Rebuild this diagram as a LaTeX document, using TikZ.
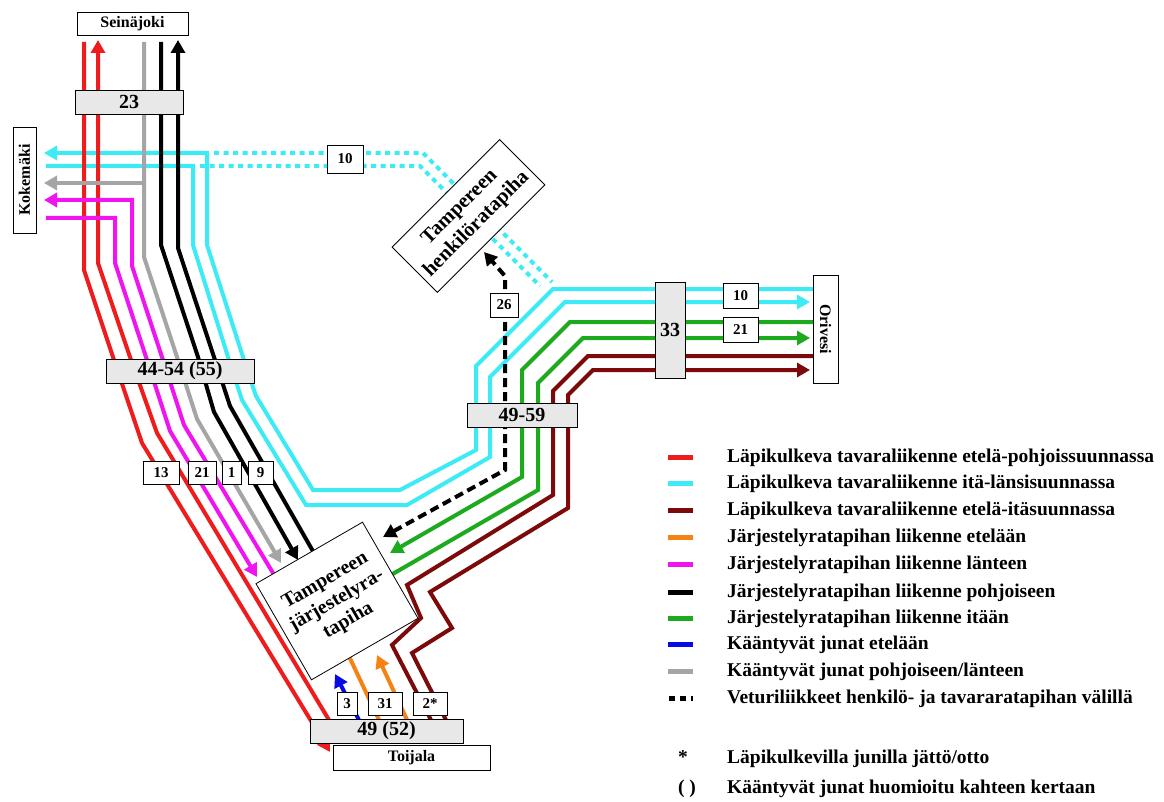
\documentclass[tikz,border=0pt]{standalone}
\usepackage{fontspec}
\setmainfont{Liberation Serif}
\usetikzlibrary{arrows.meta}
\definecolor{cRed}{RGB}{238,28,28}
\definecolor{cCyan}{RGB}{60,235,245}
\definecolor{cDark}{RGB}{125,10,10}
\definecolor{cOrange}{RGB}{245,130,20}
\definecolor{cMag}{RGB}{240,20,240}
\definecolor{cGreen}{RGB}{30,170,30}
\definecolor{cBlue}{RGB}{10,10,230}
\definecolor{cGray}{RGB}{165,165,165}
\definecolor{cBox}{RGB}{232,232,232}
\begin{document}
\begin{tikzpicture}[x=1pt,y=-1pt,
  ln/.style={line width=4pt},
  tip/.style={-{Triangle[length=13pt,width=14pt]}},
  dots/.style={ln, cCyan, dash pattern=on 5pt off 4.5pt},
  wbox/.style={draw, line width=0.8pt, fill=white, inner sep=0pt, font=\bfseries\fontsize{15}{17}\selectfont},
  nbox/.style={draw, line width=0.8pt, fill=white, inner sep=0pt, font=\bfseries\fontsize{16}{18}\selectfont},
  gbox/.style={draw, line width=0.8pt, fill=cBox, inner sep=0pt, font=\bfseries\fontsize{20}{22}\selectfont},
  ybox/.style={draw, line width=0.8pt, fill=white, inner sep=0pt, align=center, font=\bfseries\fontsize{20}{23}\selectfont},
  legline/.style={line width=5pt},
  legtxt/.style={anchor=west, inner sep=0pt, text height=14pt, text depth=4pt, font=\bfseries\fontsize{19.5}{22}\selectfont}
]
\useasboundingbox (0,0) rectangle (1164,802);
\fill[white] (0,0) rectangle (1164,802);

% dotted cyan via passenger yard
\draw[dots] (214,153) -- (423,153) -- (552,282);
\draw[dots] (200,166) -- (420,166) -- (540,286);

% cyan through lines
\draw[ln, cCyan, tip] (813,289) -- (553,289) -- (476,366) -- (476,450) -- (400,490) -- (313,490) -- (256,396) -- (243,357) -- (207,245) -- (207,153) -- (44,153);
\draw[ln, cCyan, tip] (46,166) -- (193,166) -- (193,245) -- (228,357) -- (242,400) -- (306,505) -- (407,505) -- (490,457) -- (490,377) -- (565,302) -- (810,302);

% red
\draw[ln, cRed, tip] (84,42) -- (84,270) -- (113,357) -- (142,443) -- (330,752);
\draw[ln, cRed, tip] (341,740) -- (157,433) -- (130,357) -- (98,263) -- (98,40);

% magenta
\draw[ln, cMag, tip] (46,218) -- (115,218) -- (115,263) -- (146,357) -- (170,431) -- (257,577);
\draw[ln, cMag, tip] (279,583) -- (184,425) -- (162,357) -- (132,266) -- (132,200) -- (44,200);

% gray
\draw[ln, cGray, tip] (144,42) -- (144,257) -- (177,357) -- (197,419) -- (281,563);
\draw[ln, cGray, tip] (144,183) -- (44,183);

% black
\draw[ln, black, tip] (161,42) -- (161,245) -- (198,357) -- (214,412) -- (298,560);
\draw[ln, black, tip] (318,560) -- (230,406) -- (214,357) -- (178,248) -- (178,40);

% green
\draw[ln, cGreen, tip] (813,322) -- (570,322) -- (522,370) -- (522,477) -- (390,553);
\draw[ln, cGreen, tip] (384,579) -- (538,490) -- (538,383) -- (583,338) -- (810,338);

% dark red
\draw[ln, cDark] (813,356) -- (588,356) -- (553,391) -- (553,495) -- (407,585) -- (421,618) -- (392,645) -- (432,722);
\draw[ln, cDark, tip] (447,722) -- (412,653) -- (452,628) -- (430,592) -- (568,508) -- (568,395) -- (593,370) -- (810,370);

% blue and orange
\draw[ln, cBlue, tip] (360,722) -- (335,674);
\draw[ln, cOrange] (380,722) -- (347,652);
\draw[ln, cOrange, tip] (408,722) -- (377,655);

% locomotive moves (dashed)
\draw[ln, black, dash pattern=on 9pt off 5pt, {Triangle[length=13pt,width=14pt]}-{Triangle[length=13pt,width=14pt]}] (383,537) -- (505,470) -- (505,276) -- (484,252);

% boxes
\node[nbox, minimum width=111pt, minimum height=23pt] (sei) at (132.5,23.5) {Seinäjoki};
\node[gbox, minimum width=108pt, minimum height=24pt] (b23) at (129,102) {23};
\node[nbox, rotate=90, minimum width=106pt, minimum height=23pt] (kok) at (24.5,180) {Kokemäki};
\node[wbox, minimum width=36pt, minimum height=28pt] (b10a) at (345,159) {10};
\node[ybox, rotate=45, minimum width=152pt, minimum height=64pt, font=\bfseries\fontsize{20.5}{24}\selectfont] (hen) at (468.5,216) {Tampereen\\henkilöratapiha};
\node[wbox, minimum width=28pt, minimum height=24pt] (b26) at (504,305) {26};
\node[gbox, minimum width=30pt, minimum height=96pt] (b33) at (670,330) {33};
\node[wbox, minimum width=35pt, minimum height=25pt] (b10b) at (740.5,295.5) {10};
\node[wbox, minimum width=35pt, minimum height=25pt] (b21b) at (740.5,329.5) {21};
\node[nbox, rotate=-90, minimum width=108pt, minimum height=25pt] (ori) at (825.5,329) {Orivesi};
\node[gbox, minimum width=148pt, minimum height=24pt] (b4454) at (180,371) {44-54 (55)};
\node[gbox, minimum width=110pt, minimum height=24pt] (b4959) at (522,415) {49-59};
\node[wbox, minimum width=36pt, minimum height=23pt] (b13) at (161,472.5) {13};
\node[wbox, minimum width=28pt, minimum height=23pt] (b21a) at (202,472.5) {21};
\node[wbox, minimum width=19pt, minimum height=23pt] (b1) at (231.5,472.5) {1};
\node[wbox, minimum width=25pt, minimum height=23pt] (b9) at (260.5,472.5) {9};
\node[ybox, rotate=30, minimum width=123pt, minimum height=111pt] (yard) at (337,601) {Tampereen\\järjestelyra-\\tapiha};
\node[wbox, minimum width=20pt, minimum height=23pt] (b3) at (347,703.5) {3};
\node[wbox, minimum width=34pt, minimum height=23pt] (b31) at (385,703.5) {31};
\node[wbox, minimum width=34pt, minimum height=23pt] (b2) at (430,703.5) {2*};
\node[gbox, minimum width=153pt, minimum height=24pt] (b4952) at (386.5,731) {49 (52)};
\node[nbox, minimum width=157pt, minimum height=25pt] (toi) at (411.5,757.5) {Toijala};

% legend
\draw[legline, cRed] (668,457) -- (693,457);
\node[legtxt] (t1) at (727,457) {Läpikulkeva tavaraliikenne etelä-pohjoissuunnassa};
\draw[legline, cCyan] (668,483) -- (693,483);
\node[legtxt] (t2) at (727,483) {Läpikulkeva tavaraliikenne itä-länsisuunnassa};
\draw[legline, cDark] (668,510) -- (693,510);
\node[legtxt] (t3) at (727,510) {Läpikulkeva tavaraliikenne etelä-itäsuunnassa};
\draw[legline, cOrange] (668,537) -- (693,537);
\node[legtxt] (t4) at (727,537) {Järjestelyratapihan liikenne etelään};
\draw[legline, cMag] (668,564) -- (693,564);
\node[legtxt] (t5) at (727,564) {Järjestelyratapihan liikenne länteen};
\draw[legline, black] (668,592) -- (693,592);
\node[legtxt] (t6) at (727,592) {Järjestelyratapihan liikenne pohjoiseen};
\draw[legline, cGreen] (668,618) -- (693,618);
\node[legtxt] (t7) at (727,618) {Järjestelyratapihan liikenne itään};
\draw[legline, cBlue] (668,644) -- (693,644);
\node[legtxt] (t8) at (727,644) {Kääntyvät junat etelään};
\draw[legline, cGray] (668,671) -- (693,671);
\node[legtxt] (t9) at (727,671) {Kääntyvät junat pohjoiseen/länteen};
\draw[legline, black, dash pattern=on 6pt off 5pt] (669,698) -- (693,698);
\node[legtxt] (t10) at (727,698) {Veturiliikkeet henkilö- ja tavararatapihan välillä};
\node[legtxt, anchor=center] (s1) at (683,758) {*};
\node[legtxt] (t11) at (727,758) {Läpikulkevilla junilla jättö/otto};
\node[legtxt, anchor=center] (s2) at (687,788) {( )};
\node[legtxt] (t12) at (727,788) {Kääntyvät junat huomioitu kahteen kertaan};
\end{tikzpicture}
\end{document}
